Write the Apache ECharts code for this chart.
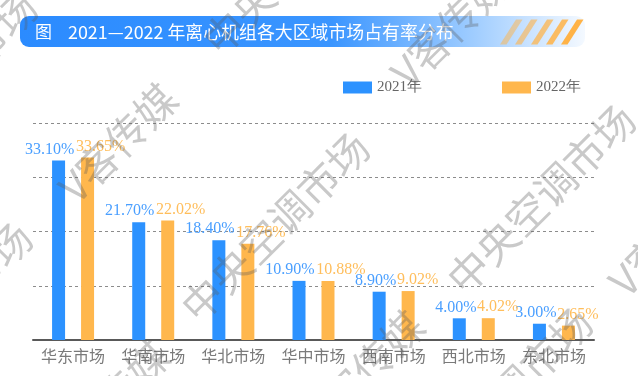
<!DOCTYPE html>
<html>
<head>
<meta charset="utf-8">
<script src="https://cdn.jsdelivr.net/npm/echarts@6/dist/echarts.min.js"></script>
<style>
  html, body { margin: 0; padding: 0; background: #ffffff; }
  #chart { width: 638px; height: 376px; }
</style>
</head>
<body>
<div id="chart"></div>
<script>
// ---- data ----
const categories = ['华东市场', '华南市场', '华北市场', '华中市场', '西南市场', '西北市场', '东北市场'];
const seriesNames = ['2021年', '2022年'];
const share2021 = [33.10, 21.70, 18.40, 10.90, 8.90, 4.00, 3.00];
const share2022 = [33.65, 22.02, 17.76, 10.88, 9.02, 4.02, 2.65];
const titleMark = '图';
const titleText = '2021—2022 年离心机组各大区域市场占有率分布';
const watermarkA = 'V客传媒';
const watermarkB = '中央空调市场';

// ---- styles ----
const BLUE = '#2C92FF';
const ORANGE = '#FFB74D';
const BLUE_LABEL = '#4A9FFF';
const ORANGE_LABEL = '#FFBE5C';
const CJK = '"Noto Sans CJK SC", "Noto Sans", sans-serif';
const SERIF = '"Liberation Serif", "DejaVu Serif", serif';

const chart = echarts.init(document.getElementById('chart'), null, { renderer: 'canvas' });

function labelled(values, offBig, offSmall) {
  return values.map(v => ({
    value: v,
    label: { offset: [v >= 10 ? offBig : offSmall, 0] }
  }));
}

// decorative stripes on banner
const stripeX = [500, 515, 531, 546, 561];
const stripeOpacity = [0.5, 0.6, 0.72, 0.85, 1];
const stripes = stripeX.map((x, i) => ({
  type: 'polygon',
  z: 5,
  shape: { points: [[x, 44.5], [x + 6.5, 44.5], [x + 22.5, 19.5], [x + 16, 19.5]] },
  style: { fill: '#FFB347', opacity: stripeOpacity[i] }
}));

// watermark placements [text, cx, cy]
const wm = [
  [watermarkB, -62, 317],
  [watermarkA, 118, 143],
  [watermarkB, 297, -40],
  [watermarkA, 110, 400],
  [watermarkB, 275, 227],
  [watermarkA, 450, 28],
  [watermarkA, 365, 370],
  [watermarkB, 541, 199],
  [watermarkB, 498, 402],
  [watermarkA, 668, 237],
  [watermarkB, -57, 87]
];
const watermarks = wm.map(([t, cx, cy]) => ({
  type: 'text',
  z: 100,
  silent: true,
  x: cx, y: cy,
  rotation: Math.PI / 4,
  style: {
    text: t, x: 0, y: 0, align: 'center', verticalAlign: 'middle',
    font: '400 41px ' + CJK,
    fill: 'rgba(90,90,90,0.33)'
  }
}));

const option = {
  backgroundColor: '#ffffff',
  animation: false,
  grid: { left: 33, right: 44, top: 123, bottom: 36, containLabel: false },
  legend: {
    left: 338, top: 75,
    itemWidth: 29, itemHeight: 12, itemGap: 80,
    icon: 'rect',
    textStyle: { color: '#666666', fontSize: 15, fontFamily: SERIF },
    data: seriesNames
  },
  xAxis: {
    type: 'category',
    data: categories,
    axisLine: { show: true, lineStyle: { color: '#595959', width: 2 } },
    axisTick: { show: false },
    axisLabel: { interval: 0, color: '#7a7a7a', fontSize: 16, fontFamily: CJK, margin: 8 }
  },
  yAxis: {
    type: 'value',
    min: 0, max: 40, interval: 10,
    axisLine: { show: false },
    axisTick: { show: false },
    axisLabel: { show: false },
    splitLine: { show: true, lineStyle: { color: '#8c8c8c', type: [3, 3], width: 1 } }
  },
  series: [
    {
      name: seriesNames[0],
      type: 'bar',
      barWidth: 13,
      barGap: '123%',
      itemStyle: { color: BLUE },
      label: {
        show: true, position: 'top', distance: 3,
        color: BLUE_LABEL, fontSize: 16, fontFamily: SERIF,
        formatter: p => p.value.toFixed(2) + '%'
      },
      data: labelled(share2021, -9, -3.5)
    },
    {
      name: seriesNames[1],
      type: 'bar',
      barWidth: 13,
      itemStyle: { color: ORANGE },
      label: {
        show: true, position: 'top', distance: 3,
        color: ORANGE_LABEL, fontSize: 16, fontFamily: SERIF,
        formatter: p => p.value.toFixed(2) + '%'
      },
      data: labelled(share2022, 13, 9.5)
    }
  ],
  graphic: [
    {
      type: 'rect',
      z: 4,
      shape: { x: 20, y: 16, width: 565, height: 31, r: 9 },
      style: {
        fill: new echarts.graphic.LinearGradient(0, 0, 1, 0, [
          { offset: 0, color: '#2B8BFF' },
          { offset: 0.55, color: '#3A95FF' },
          { offset: 0.8, color: '#9ECCFF' },
          { offset: 1, color: '#F4F9FF' }
        ])
      }
    },
    ...stripes,
    {
      type: 'text', z: 6, x: 35, y: 32,
      style: { text: titleMark, x: 0, y: 0, align: 'left', verticalAlign: 'middle',
        font: '400 17px ' + CJK, fill: '#ffffff' }
    },
    {
      type: 'text', z: 6, x: 68, y: 32,
      style: { text: titleText, x: 0, y: 0, align: 'left', verticalAlign: 'middle',
        font: '400 17.9px ' + CJK, fill: '#ffffff' }
    },
    ...watermarks
  ]
};

chart.setOption(option);
</script>
</body>
</html>
